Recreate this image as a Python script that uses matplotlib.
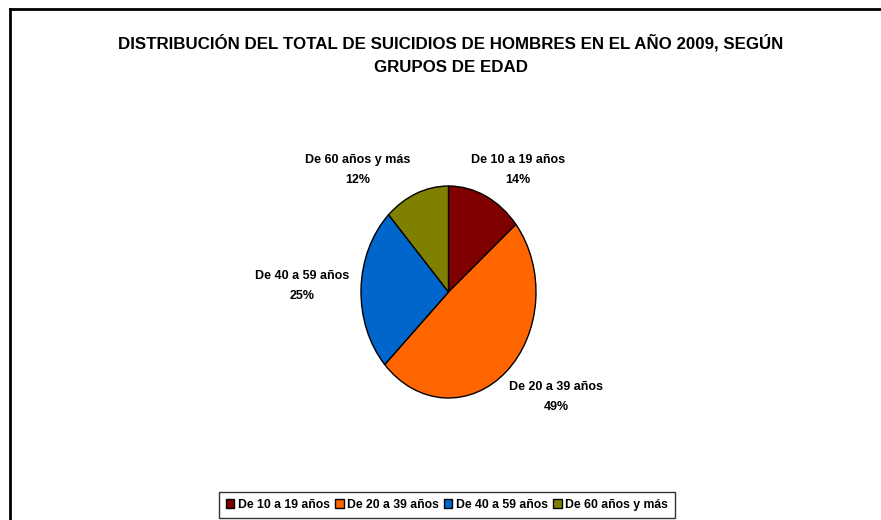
import matplotlib.pyplot as plt
from matplotlib.lines import Line2D

groups = ['De 10 a 19 años', 'De 20 a 39 años', 'De 40 a 59 años', 'De 60 años y más']
shares = [14, 49, 25, 12]
colors = ['#800000', '#FF6600', '#0066CC', '#808000']

plt.rcParams['font.family'] = ['Liberation Sans Narrow', 'Liberation Sans', 'DejaVu Sans']
plt.rcParams['font.weight'] = 'bold'

W, H = 881, 520
fig = plt.figure(figsize=(W / 100, H / 100), dpi=100)

def fx(px):
    return px / W

def fy(py):
    return 1 - py / H

# frame lines (left and top only)
fig.add_artist(Line2D([fx(10), fx(10)], [fy(9), 0], color='black', lw=2, transform=fig.transFigure))
fig.add_artist(Line2D([fx(10), 1], [fy(9), fy(9)], color='black', lw=2, transform=fig.transFigure))

fig.text(fx(451), fy(43), 'DISTRIBUCIÓN DEL TOTAL DE SUICIDIOS DE HOMBRES EN EL AÑO 2009, SEGÚN',
         ha='center', va='center', fontsize=12.2, fontweight='bold')
fig.text(fx(451), fy(67), 'GRUPOS DE EDAD', ha='center', va='center', fontsize=12.2, fontweight='bold')

# elliptical pie: axes stretched, aspect auto
ax = fig.add_axes([fx(361), fy(398), fx(536) - fx(361), (398 - 186) / H])
wedges, _ = ax.pie(shares, colors=colors, startangle=90, counterclock=False,
                   wedgeprops=dict(edgecolor='black', linewidth=1))
ax.set_aspect('auto')
ax.set_xlim(-1, 1)
ax.set_ylim(-1, 1)
ax.axis('off')

label_pos = [(518, 170), (556, 397), (302, 286), (358, 170)]
for g, s, (px, py) in zip(groups, shares, label_pos):
    fig.text(fx(px), fy(py), f'{g}\n{s}%', ha='center', va='center',
             fontsize=9, fontweight='bold', linespacing=1.85)

leg = fig.legend(wedges, groups, loc='center', bbox_to_anchor=(fx(447), fy(505)),
                 ncol=4, frameon=True, fancybox=False, edgecolor='black',
                 fontsize=8.8, handlelength=0.7, handleheight=0.7, handletextpad=0.3,
                 columnspacing=0.4, borderpad=0.55, borderaxespad=0)
leg.get_frame().set_linewidth(1)
for t in leg.get_texts():
    t.set_fontweight('bold')

fig.savefig('out.png', dpi=100)
